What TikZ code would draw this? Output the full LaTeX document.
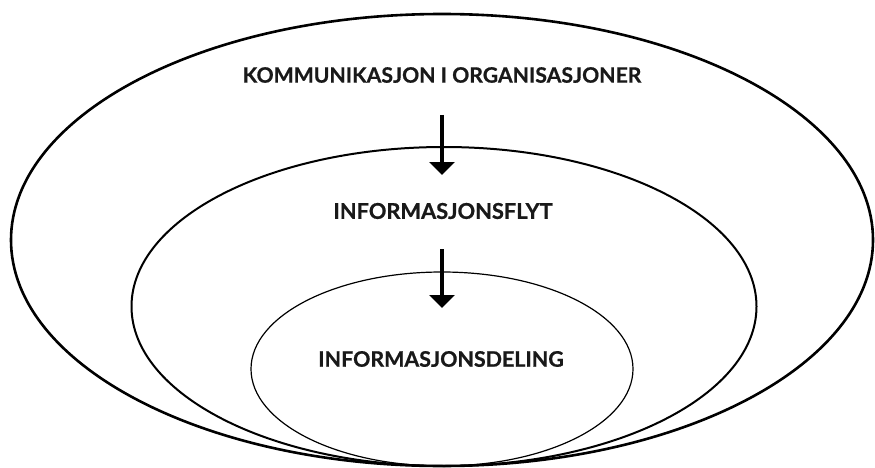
\documentclass[tikz,border=0pt]{standalone}
\usepackage{fontspec}
\setmainfont{Lato}[BoldFeatures={FakeBold=0.7}]
\usetikzlibrary{shapes.geometric,arrows.meta}
\begin{document}
\begin{tikzpicture}[x=1pt,y=-1pt,
  ring/.style={draw=black, ellipse, inner sep=0pt, outer sep=0pt},
  label/.style={inner sep=0pt, text=black!90},
  flow/.style={line width=4.5pt, -{Triangle[width=25pt,length=13pt]}}]
  \useasboundingbox (0,0) rectangle (875,468);
  % nested rings
  \node[ring, line width=2.6pt, minimum width=862pt, minimum height=452pt] (outer) at (442,240) {};
  \node[ring, line width=2.0pt, minimum width=625pt, minimum height=319pt] (middle) at (444,306.5) {};
  \node[ring, line width=1.2pt, minimum width=382pt, minimum height=194pt] (inner) at (442,369) {};
  % labels
  \node[label, font=\bfseries\fontsize{21.2}{22}\selectfont] (t1) at (442,75) {KOMMUNIKASJON I ORGANISASJONER};
  \node[label, font=\bfseries\fontsize{21.8}{22}\selectfont] (t2) at (443,211) {INFORMASJONSFLYT};
  \node[label, font=\bfseries\fontsize{21.4}{22}\selectfont] (t3) at (441,359) {INFORMASJONSDELING};
  % arrows between the levels
  \coordinate (a1s) at (442,115);
  \coordinate (a1e) at (442,175);
  \coordinate (a2s) at (442,249);
  \coordinate (a2e) at (442,308);
  \draw[flow] (a1s) -- (a1e);
  \draw[flow] (a2s) -- (a2e);
\end{tikzpicture}
\end{document}
